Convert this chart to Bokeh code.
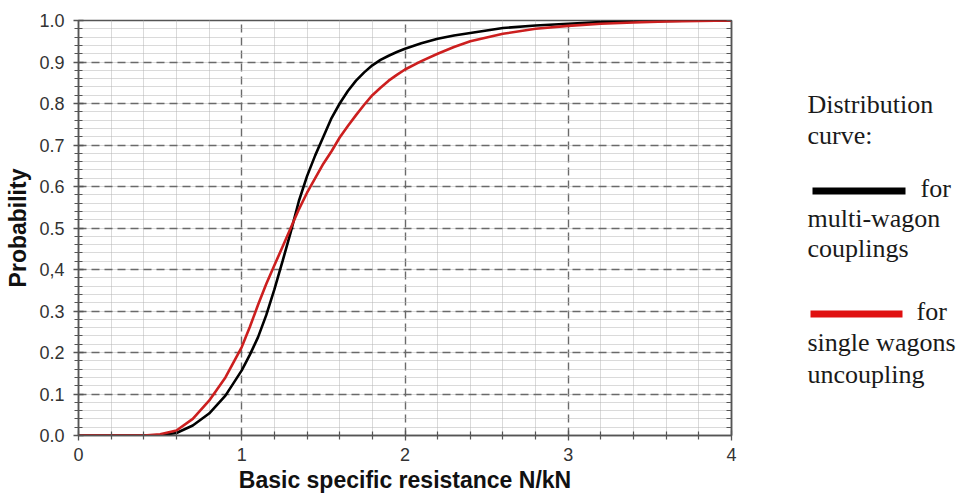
from bokeh.plotting import figure
from bokeh.layouts import row
from bokeh.models import FixedTicker, LinearAxis, Label, BoxAnnotation, Range1d, ColumnDataSource
from bokeh.embed import file_html
from bokeh.resources import INLINE

# ---- data ----
resistance = [0.0, 0.2, 0.4, 0.5, 0.6, 0.7, 0.8, 0.9, 1.0, 1.05, 1.1, 1.15, 1.2, 1.25,
              1.3, 1.35, 1.4, 1.45, 1.5, 1.55, 1.6, 1.65, 1.7, 1.75, 1.8, 1.85, 1.9, 1.95,
              2.0, 2.1, 2.2, 2.3, 2.4, 2.6, 2.8, 3.0, 3.2, 3.4, 3.6, 3.8, 4.0]
multi_wagon = [0.0, 0.0, 0.0, 0.001, 0.006, 0.024, 0.053, 0.096, 0.157, 0.195, 0.237, 0.29,
               0.352, 0.42, 0.49, 0.565, 0.625, 0.675, 0.72, 0.765, 0.80, 0.83, 0.855, 0.875,
               0.892, 0.905, 0.915, 0.924, 0.932, 0.945, 0.956, 0.964, 0.97, 0.982, 0.988,
               0.992, 0.996, 0.998, 0.999, 1.0, 1.0]
single_wagon = [0.0, 0.0, 0.0, 0.003, 0.012, 0.04, 0.084, 0.14, 0.213, 0.262, 0.315, 0.365,
                0.41, 0.455, 0.50, 0.545, 0.585, 0.62, 0.655, 0.685, 0.718, 0.746, 0.772, 0.797,
                0.82, 0.838, 0.855, 0.869, 0.882, 0.902, 0.92, 0.936, 0.95, 0.968, 0.98,
                0.987, 0.992, 0.995, 0.998, 0.999, 1.0]

x_ticks = [0, 1, 2, 3, 4]
x_minor = [0.2, 0.4, 0.6, 0.8, 1.2, 1.4, 1.6, 1.8, 2.2, 2.4, 2.6, 2.8, 3.2, 3.4, 3.6, 3.8]
y_ticks = [0.0, 0.1, 0.2, 0.3, 0.4, 0.5, 0.6, 0.7, 0.8, 0.9, 1.0]
y_tick_labels = ["0.0", "0.1", "0.2", "0.3", "0,4", "0.5", "0.6", "0.7", "0.8", "0.9", "1.0"]
y_minor = [round(i * 0.02, 2) for i in range(51)]

legend_text = ["Distribution", "curve:", "for", "multi-wagon", "couplings",
               "for", "single wagons", "uncoupling"]

# ---- main figure ----
p = figure(width=738, height=497, x_range=Range1d(0, 4), y_range=Range1d(0, 1),
           output_backend="svg", toolbar_location=None,
           min_border_left=78, min_border_right=7, min_border_top=20, min_border_bottom=62)
p.background_fill_color = "white"
p.border_fill_color = "white"
p.outline_line_color = "#555555"
p.outline_line_width = 1.5

xt = FixedTicker(ticks=x_ticks, minor_ticks=x_minor)
yt = FixedTicker(ticks=y_ticks, minor_ticks=y_minor)

for ax in (p.xaxis[0], p.yaxis[0]):
    ax.axis_label_text_font = "Liberation Sans"
    ax.axis_label_text_font_style = "bold"
    ax.axis_label_text_font_size = "23px"
    ax.axis_label_text_color = "#111111"
    ax.major_label_text_font = "Liberation Sans"
    ax.major_label_text_font_size = "18px"
    ax.major_label_text_color = "#333333"
    ax.axis_line_color = "#555555"
    ax.axis_line_width = 1.5
    ax.major_tick_line_color = "#555555"
    ax.minor_tick_line_color = "#555555"
    ax.major_tick_line_width = 1.3
    ax.minor_tick_line_width = 1.2
    ax.major_tick_in = 5
    ax.major_tick_out = 5
    ax.minor_tick_in = 4
    ax.minor_tick_out = 4

p.xaxis[0].ticker = xt
p.yaxis[0].ticker = yt
p.xaxis[0].axis_label = "Basic specific resistance N/kN"
p.yaxis[0].axis_label = "Probability"
p.xaxis[0].major_label_standoff = 7
p.xaxis[0].axis_label_standoff = 3
p.yaxis[0].major_label_standoff = 9
p.yaxis[0].axis_label_standoff = 5
p.yaxis[0].major_label_overrides = {v: s for v, s in zip(y_ticks, y_tick_labels)}

# right-hand frame ticks (no labels)
right = LinearAxis(ticker=FixedTicker(ticks=[], minor_ticks=y_minor),
                   axis_line_color="#555555", axis_line_width=1.5,
                   major_tick_in=0, major_tick_out=0, minor_tick_in=5, minor_tick_out=0,
                   minor_tick_line_color="#555555", minor_tick_line_width=1.2)
p.add_layout(right, "right")

for g, t in ((p.xgrid[0], xt), (p.ygrid[0], yt)):
    g.ticker = t
    g.grid_line_color = "#6a6a6a"
    g.grid_line_width = 1.4
    g.grid_line_dash = "8 5"
    g.minor_grid_line_color = "#b5b5b5"
    g.minor_grid_line_width = 1
    g.minor_grid_line_dash = "1 1"

src = ColumnDataSource(dict(x=resistance, multi=multi_wagon, single=single_wagon))
p.line("x", "multi", source=src, line_color="black", line_width=2.6)
p.line("x", "single", source=src, line_color="#cc1f1f", line_width=2.6)

# ---- legend panel: its frame is aligned with the main frame (page y 20..435),
# so its data space equals page pixels, y downwards ----
lg = figure(width=228, height=497, x_range=Range1d(738, 966), y_range=Range1d(435, 20),
            output_backend="svg", toolbar_location=None,
            x_axis_type=None, y_axis_type=None, min_border=0)
lg.grid.visible = False
lg.outline_line_color = None
lg.background_fill_color = "white"
lg.border_fill_color = "white"

pos = [(807, 104), (807, 135), (920, 188), (807, 218), (807, 248),
       (916, 311), (807, 342), (807, 374)]
for txt, (px, py) in zip(legend_text, pos):
    lg.add_layout(Label(x=px, y=py, text=txt, text_font="Liberation Serif",
                        text_font_size="26px", text_color="#1a1a1a",
                        text_baseline="alphabetic", text_align="left"))

lg.add_layout(BoxAnnotation(left=812, right=905, top=187, bottom=194,
                            fill_color="black", fill_alpha=1, line_color=None))
lg.add_layout(BoxAnnotation(left=810, right=902, top=310, bottom=317,
                            fill_color="#e01010", fill_alpha=1, line_color=None))

layout = row(p, lg, spacing=0)
open("out.html", "w").write(file_html(layout, INLINE))
